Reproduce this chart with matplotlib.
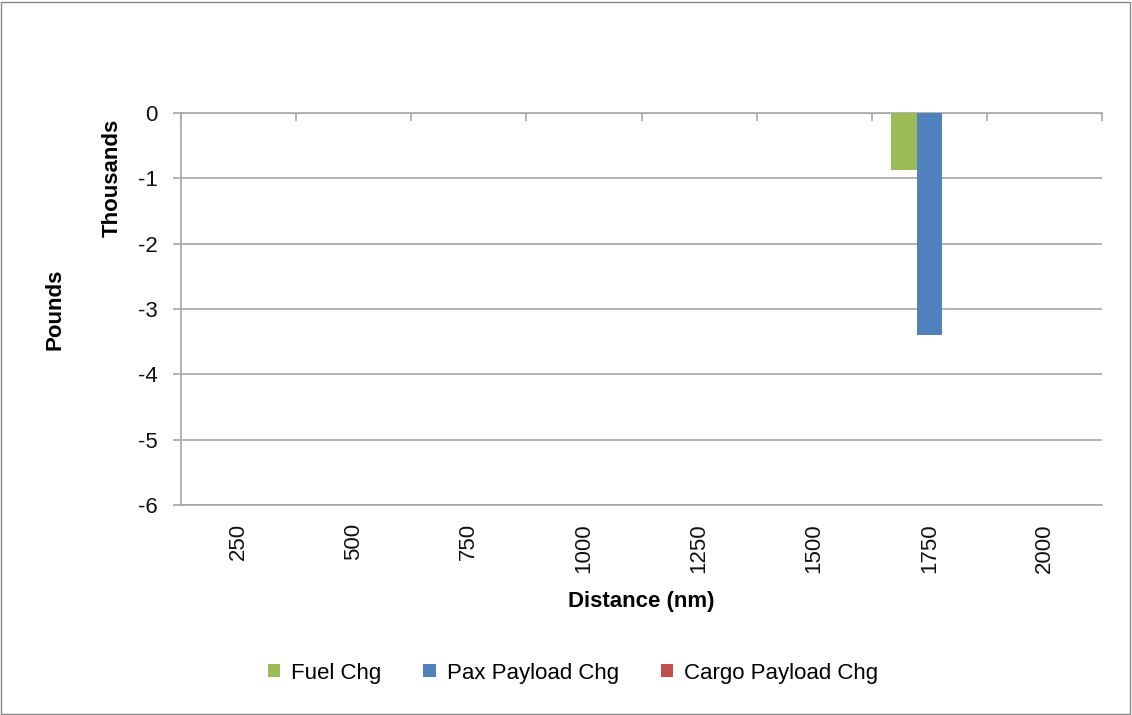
import numpy as np
import matplotlib
matplotlib.use("Agg")
import matplotlib.pyplot as plt
from matplotlib.patches import Rectangle

plt.rcParams['font.family'] = ['Liberation Sans', 'DejaVu Sans']

# change in pounds per distance band
distance = ['250', '500', '750', '1000', '1250', '1500', '1750', '2000']
fuel_chg = [0, 0, 0, 0, 0, 0, -870, 0]
pax_chg = [0, 0, 0, 0, 0, 0, -3400, 0]
cargo_chg = [0, 0, 0, 0, 0, 0, 0, 0]

series = [('Fuel Chg', fuel_chg, '#9BBB59'),
          ('Pax Payload Chg', pax_chg, '#4F81BD'),
          ('Cargo Payload Chg', cargo_chg, '#C0504D')]

fig = plt.figure(figsize=(11.32, 7.15), dpi=100)
ax = fig.add_axes([181/1132, 1-505/715, (1102-181)/1132, (505-113)/715])

x = np.arange(len(distance))
w = 1/4.5
handles = []
for k, (name, vals, col) in enumerate(series):
    b = ax.bar(x + (k-1)*w, np.array(vals)/1000.0, width=w, color=col,
               linewidth=0, label=name, zorder=3)
    handles.append(b)

grid_c = '#a6a6a6'
ax.set_xlim(-0.5, len(distance)-0.5)
ax.set_ylim(-6, 0)
ax.set_yticks(range(-6, 1))
ax.set_yticklabels([str(v) for v in range(-6, 1)])
ax.yaxis.grid(True, color=grid_c, linewidth=1.2, zorder=0)

ax.set_xticks(x)
ax.set_xticklabels(distance, rotation=90)
ax.set_xticks(np.arange(len(distance)+1) - 0.5, minor=True)
ax.tick_params(axis='x', which='major', length=0, pad=13, labelsize=16,
               labelcolor='#111111')
ax.tick_params(axis='x', which='minor', bottom=False, top=True,
               direction='in', length=6, width=1.2, color=grid_c)
ax.tick_params(axis='y', length=6, width=1.2, color=grid_c, pad=11,
               labelsize=16, labelcolor='#111111')

for s in ['top', 'bottom', 'left']:
    ax.spines[s].set_color(grid_c)
    ax.spines[s].set_linewidth(1.2)
ax.spines['right'].set_visible(False)

fig.text(112/1132, 1-178/715, 'Thousands', rotation=90, ha='center',
         va='center', fontsize=16, fontweight='bold')
fig.text(55/1132, 1-309/715, 'Pounds', rotation=90, ha='center',
         va='center', fontsize=16, fontweight='bold')
fig.text(641/1132, 1-602/715, 'Distance (nm)', ha='center', va='center',
         fontsize=16, fontweight='bold')

fig.legend(handles=handles, loc='center', bbox_to_anchor=(573/1132, 1-673/715),
           ncol=3, frameon=False, fontsize=16, handlelength=0.55,
           handleheight=0.55, handletextpad=0.5, columnspacing=1.9)

fig.patches.append(Rectangle((0.001, 0.002), 0.997, 0.995, transform=fig.transFigure,
                             fill=False, edgecolor='#888888', linewidth=1))

fig.savefig('out.png', dpi=100)
